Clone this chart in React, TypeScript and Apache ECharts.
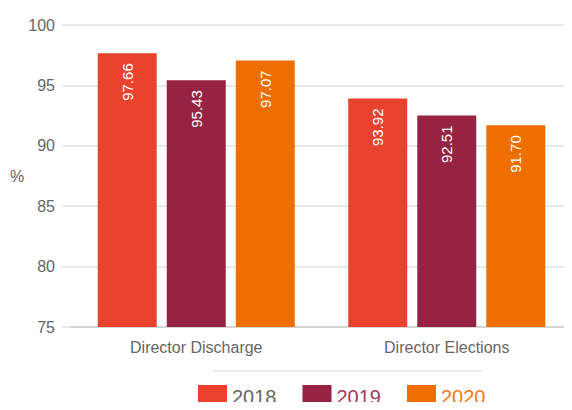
import React, { useEffect, useRef } from "react";
import * as echarts from "echarts";

const categories = ["Director Discharge", "Director Elections"];
const years = ["2018", "2019", "2020"];
const values2018 = [97.66, 93.92];
const values2019 = [95.43, 92.51];
const values2020 = [97.07, 91.7];
const yTicks = { min: 75, max: 100, interval: 5 };

const colors = ["#E9432E", "#972342", "#EE6F00"];
const legendTextColors = ["#666666", "#A8395E", "#EE7A1A"];
const FONT = "'Helvetica Neue', 'Liberation Sans', Arial, sans-serif";

export default function App() {
  const ref = useRef<HTMLDivElement>(null);
  useEffect(() => {
    if (!ref.current) return;
    const chart = echarts.init(ref.current, undefined, { renderer: "svg" });
    const seriesValues = [values2018, values2019, values2020];
    chart.setOption({
      animation: false,
      textStyle: { fontFamily: FONT },
      grid: { left: 71, top: 25, width: 506, height: 302, containLabel: false },
      legend: {
        left: 198,
        top: 385,
        padding: 0,
        itemWidth: 29,
        itemHeight: 24,
        itemGap: 26,
        icon: "rect",
        data: years.map((y, i) => ({
          name: y,
          textStyle: { color: legendTextColors[i], fontSize: 20, fontFamily: FONT, padding: [2, 0, 0, 0] },
        })),
        textStyle: { fontSize: 20, fontFamily: FONT },
      },
      xAxis: {
        type: "category",
        data: categories,
        axisLine: { show: true, lineStyle: { color: "#D5D5D5", width: 2 } },
        axisTick: { show: false },
        axisLabel: { color: "#666666", fontSize: 16, margin: 12, fontFamily: FONT },
      },
      yAxis: {
        type: "value",
        min: yTicks.min,
        max: yTicks.max,
        interval: yTicks.interval,
        axisLine: { show: false },
        axisTick: { show: true, length: 9, lineStyle: { color: "#E0E0E0", width: 1.5 } },
        axisLabel: { color: "#666666", fontSize: 16, margin: 16, fontFamily: FONT },
        splitLine: { show: true, lineStyle: { color: "#E0E0E0", width: 1.5 } },
      },
      graphic: [
        {
          type: "text",
          left: 10,
          top: 168,
          style: { text: "%", fill: "#666666", fontSize: 16, fontFamily: FONT },
        },
        {
          type: "line",
          shape: { x1: 213, y1: 371, x2: 482, y2: 371 },
          style: { stroke: "#E5E5E5", lineWidth: 1.5 },
        },
      ],
      series: years.map((y, i) => ({
        name: y,
        type: "bar",
        data: seriesValues[i],
        barWidth: 59,
        barGap: "17%",
        itemStyle: { color: colors[i] },
        label: {
          show: true,
          position: "insideTop",
          distance: 10,
          rotate: 90,
          align: "right",
          verticalAlign: "middle",
          color: "#FFFFFF",
          fontSize: 15,
          fontFamily: FONT,
          formatter: (p: any) => p.value.toFixed(2),
        },
      })),
    });
    return () => chart.dispose();
  }, []);
  return <div ref={ref} style={{ width: 572, height: 410, margin: -8 }} />;
}
